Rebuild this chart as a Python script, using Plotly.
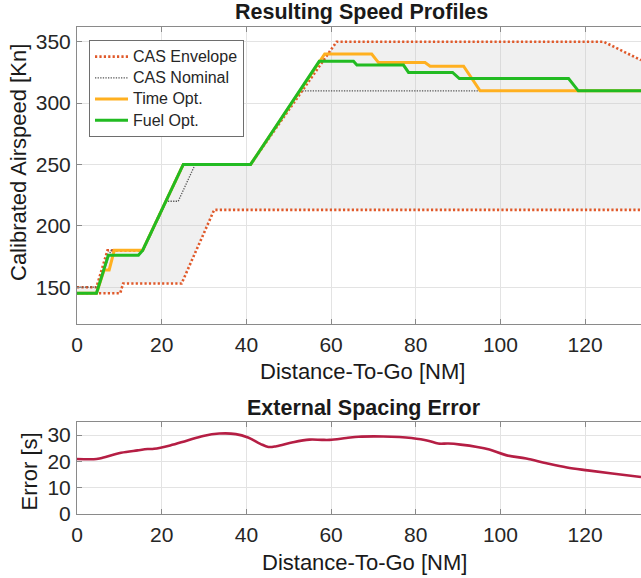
import plotly.graph_objects as go

# ---- speed profile data (distance-to-go in NM, CAS in kn) ----
env_upper_x = [0, 4.6, 7.2, 15.5, 25.1, 41.0, 61.3, 124.4, 133.2]
env_upper_y = [150, 150, 180, 180, 250, 250, 350, 350, 335]

env_lower_x = [0, 10.2, 10.9, 24.7, 32.4, 133.2]
env_lower_y = [145, 145, 153, 153, 213, 213]

nominal_x = [0, 5.0, 8.0, 15.7, 21.2, 23.9, 27.9, 41.0, 52.5, 133.2]
nominal_y = [150, 150, 180, 180, 220, 220, 250, 250, 310, 310]

time_x = [0, 4.6, 6.4, 7.6, 8.8, 15.5, 25.1, 41.0, 58.5, 69.6, 71.2, 82.2, 83.4, 91.3, 95.2, 133.2]
time_y = [145, 145, 164, 164, 180, 180, 250, 250, 340, 340, 333, 333, 330, 330, 310, 310]

fuel_x = [0, 4.6, 7.4, 14.5, 15.5, 25.1, 41.0, 57.2, 65.3, 66.1, 77.1, 78.3, 88.7, 90.3, 116.1, 118.4, 133.2]
fuel_y = [145, 145, 176, 176, 180, 250, 250, 334, 334, 331, 331, 325, 325, 320, 320, 310, 310]

# ---- external spacing error (s) ----
err_x = [0, 4.6, 5.6, 10.4, 14.3, 16.7, 18.2, 22.0, 25.9, 29.8, 33.6, 37.5, 40.4, 43.3,
         45.2, 47.1, 51.0, 54.9, 57.8, 59.7, 63.6, 66.5, 72.3, 76.1, 79.0, 82.9, 85.3,
         87.7, 90.6, 94.5, 97.4, 101.3, 106.1, 110.9, 115.7, 120.6, 126.4, 133.2]
err_y = [20.9, 20.9, 21.2, 23.3, 24.2, 24.7, 24.8, 26.1, 27.9, 29.7, 30.6, 30.4, 29.1, 26.7,
         25.5, 25.8, 27.3, 28.3, 28.2, 28.2, 28.9, 29.4, 29.5, 29.3, 28.9, 27.9, 26.8,
         26.8, 26.4, 25.5, 24.5, 22.4, 21.1, 19.3, 17.7, 16.6, 15.4, 14.1]

x_ticks = [0, 20, 40, 60, 80, 100, 120]
speed_ticks = [150, 200, 250, 300, 350]
err_ticks = [0, 10, 20, 30]

W, H = 641, 578
ML = 77
FONT = "Liberation Sans"
TXT = "#262626"
AX = "#8a8a8a"
GRID = "#e3e3e3"

RED = "#E0592A"
GRAY = "#555555"
ORANGE = "#FFB020"
GREEN = "#22BB22"
CRIMSON = "#B51E44"


def legend_name(s):
    return '<span style="font-size:16px">' + s + "</span>"


fig = go.Figure()

# shaded envelope region
fig.add_trace(go.Scatter(
    x=env_upper_x + env_lower_x[::-1], y=env_upper_y + env_lower_y[::-1],
    fill="toself", fillcolor="rgba(200,200,200,0.27)", mode="lines",
    line=dict(width=0), hoverinfo="skip", showlegend=False,
    xaxis="x", yaxis="y"))

fig.add_trace(go.Scatter(
    x=env_upper_x, y=env_upper_y, mode="lines", name=legend_name("CAS Envelope"),
    line=dict(color=RED, width=2.6, dash="2.2px,2.2px"), xaxis="x", yaxis="y"))
fig.add_trace(go.Scatter(
    x=env_lower_x, y=env_lower_y, mode="lines", name="CAS Envelope",
    line=dict(color=RED, width=2.6, dash="2.2px,2.2px"), showlegend=False,
    xaxis="x", yaxis="y"))
fig.add_trace(go.Scatter(
    x=nominal_x, y=nominal_y, mode="lines", name=legend_name("CAS Nominal"),
    line=dict(color=GRAY, width=1.3, dash="1.3px,1.3px"), xaxis="x", yaxis="y"))
fig.add_trace(go.Scatter(
    x=time_x, y=time_y, mode="lines", name=legend_name("Time Opt."),
    line=dict(color=ORANGE, width=3), xaxis="x", yaxis="y"))
fig.add_trace(go.Scatter(
    x=fuel_x, y=fuel_y, mode="lines", name=legend_name("Fuel Opt."),
    line=dict(color=GREEN, width=3), xaxis="x", yaxis="y"))

fig.add_trace(go.Scatter(
    x=err_x, y=err_y, mode="lines", line=dict(color=CRIMSON, width=2.6, shape="spline"),
    showlegend=False, xaxis="x2", yaxis="y2"))


def py(px):
    """paper y fraction from a pixel row"""
    return 1 - px / H


def px_x(px):
    """paper x fraction from a pixel column"""
    return (px - ML) / (W - ML)


axis_common = dict(
    showline=True, linecolor=AX, linewidth=1, ticks="inside", ticklen=5,
    tickcolor=AX, showgrid=True, gridcolor=GRID, gridwidth=1, zeroline=False,
    automargin=False,
    tickfont=dict(family=FONT, size=21, color=TXT),
)

fig.update_layout(
    width=W, height=H,
    margin=dict(l=ML, r=0, t=0, b=0),
    paper_bgcolor="white", plot_bgcolor="white",
    font=dict(family=FONT, color=TXT),
    xaxis=dict(domain=[0, 1], range=[0, 133.2], tickvals=x_ticks, mirror="allticks",
               anchor="y", ticklabelstandoff=2, **axis_common),
    yaxis=dict(domain=[py(324), py(27)], range=[120, 362], tickvals=speed_ticks,
               anchor="x", ticklabelstandoff=1, **axis_common),
    xaxis2=dict(domain=[0, 1], range=[0, 133.2], tickvals=x_ticks, mirror="allticks",
                anchor="y2", ticklabelstandoff=2, **axis_common),
    yaxis2=dict(domain=[py(514), py(422)], range=[0, 35], tickvals=err_ticks,
                anchor="x2", ticklabelstandoff=1, **axis_common),
    legend=dict(
        x=px_x(89), y=py(40), xanchor="left", yanchor="top",
        bgcolor="white", bordercolor="#6e6e6e", borderwidth=1,
        font=dict(family=FONT, size=14, color=TXT),
        itemwidth=33, tracegroupgap=0,
    ),
    showlegend=True,
)

annotations = [
    dict(text="<b>Resulting Speed Profiles</b>", x=361, y=12, size=21.5),
    dict(text="<b>External Spacing Error</b>", x=363.5, y=408, size=21.5),
    dict(text="Distance-To-Go [NM]", x=362, y=371, size=22),
    dict(text="Distance-To-Go [NM]", x=364, y=562, size=22),
    dict(text="Calibrated Airspeed [Kn]", x=18, y=163, size=22, angle=-90),
    dict(text="Error [s]", x=28.5, y=472, size=22, angle=-90),
]
for a in annotations:
    fig.add_annotation(
        text=a["text"], xref="paper", yref="paper",
        x=px_x(a["x"]), y=py(a["y"]), xanchor="center", yanchor="middle",
        showarrow=False, textangle=a.get("angle", 0),
        font=dict(family=FONT, size=a["size"], color="#1a1a1a"),
    )

fig.write_html("out.html")
